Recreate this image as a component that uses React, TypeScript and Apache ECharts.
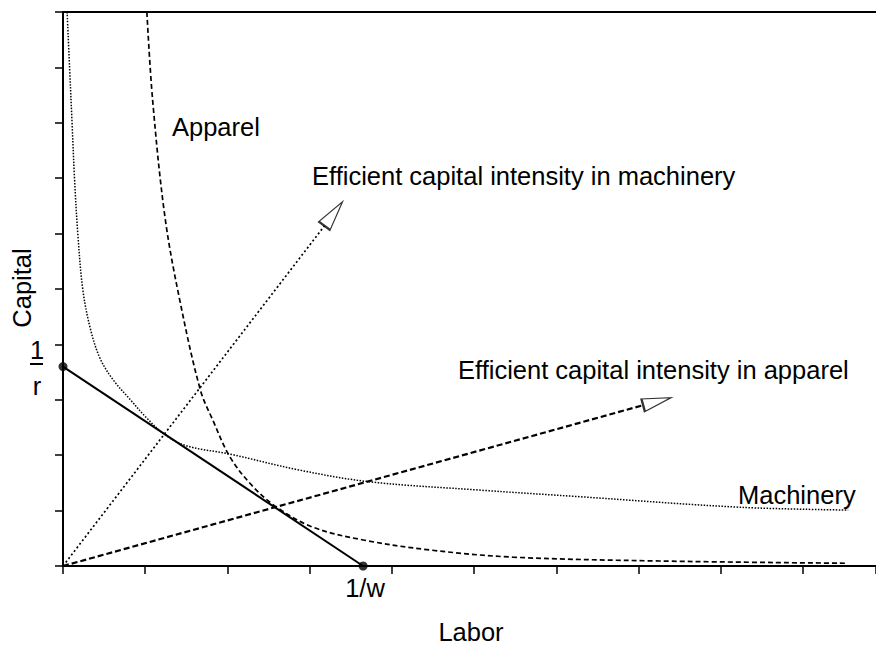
import React, { useEffect, useRef } from "react";
import * as echarts from "echarts";

// Axis extents (data units)
const xMax = 9.888;
const yMax = 10;

// Machinery isoquant (fine dotted curve)
const machineryIsoquant: number[][] = [
  [0.05, 10], [0.08, 9], [0.11, 8], [0.14, 7], [0.18, 6], [0.24, 5], [0.33, 4.3],
  [0.45, 3.75], [0.61, 3.36], [0.82, 3.0], [1.0, 2.7], [1.23, 2.38], [1.5, 2.17],
  [2.03, 2.02], [2.88, 1.73], [3.73, 1.52], [5.07, 1.37], [6.29, 1.25], [8.24, 1.06], [9.55, 1.01],
];

// Apparel isoquant (dashed curve)
const apparelIsoquant: number[][] = [
  [1.02, 10], [1.09, 8.41], [1.24, 6.3], [1.42, 4.8], [1.67, 3.18], [1.82, 2.64],
  [2.03, 1.97], [2.3, 1.45], [2.6, 1.06], [3.04, 0.7], [3.65, 0.47], [4.46, 0.29],
  [5.47, 0.16], [7.26, 0.09], [9.51, 0.05],
];

// Isocost (budget) line: 1/r on capital axis, 1/w on labor axis
const budgetLine: number[][] = [[0, 3.6], [3.65, 0]];

// Efficient capital-intensity rays
const machineryRay: number[][] = [[0, 0], [3.18, 6.14]];
const apparelRay: number[][] = [[0, 0], [7.05, 2.9]];

const FONT = '"Liberation Sans", Arial, Helvetica, sans-serif';

export default function App() {
  const ref = useRef<HTMLDivElement>(null);
  useEffect(() => {
    if (!ref.current) return;
    const chart = echarts.init(ref.current, undefined, { renderer: "svg" });
    const black = "#000";
    const txt = (text: string, x: number, y: number, align = "left", extra: any = {}) => ({
      type: "text",
      x,
      y,
      ...extra,
      style: {
        text,
        fill: "#000",
        fontSize: 25.5,
        fontFamily: FONT,
        textAlign: align,
        textVerticalAlign: "middle",
      },
    });
    chart.setOption({
      animation: false,
      backgroundColor: "#fff",
      grid: { left: 63, top: 12, right: 0, bottom: 81, containLabel: false },
      xAxis: [
        {
          type: "value",
          min: 0,
          max: xMax,
          interval: 1,
          axisLine: { show: true, onZero: false, lineStyle: { color: "#000", width: 2 } },
          axisTick: { show: true, length: 8, lineStyle: { color: "#000", width: 1.5 } },
          axisLabel: { show: false },
          splitLine: { show: false },
        },
        {
          type: "value",
          position: "top",
          min: 0,
          max: xMax,
          axisLine: { show: true, onZero: false, lineStyle: { color: "#000", width: 2 } },
          axisTick: { show: false },
          axisLabel: { show: false },
          splitLine: { show: false },
        },
      ],
      yAxis: {
        type: "value",
        min: 0,
        max: yMax,
        interval: 1,
        axisLine: { show: true, onZero: false, lineStyle: { color: "#000", width: 2 } },
        axisTick: { show: true, length: 8, lineStyle: { color: "#000", width: 1.5 } },
        axisLabel: { show: false },
        splitLine: { show: false },
      },
      series: [
        {
          type: "line",
          data: machineryIsoquant,
          smooth: 0.35,
          showSymbol: false,
          lineStyle: { color: black, width: 1.5, type: [1.5, 1.5] },
        },
        {
          type: "line",
          data: apparelIsoquant,
          smooth: 0.35,
          showSymbol: false,
          lineStyle: { color: black, width: 1.7, type: [5, 3] },
        },
        {
          type: "line",
          data: budgetLine,
          showSymbol: false,
          lineStyle: { color: black, width: 2 },
        },
        {
          type: "line",
          data: machineryRay,
          showSymbol: false,
          lineStyle: { color: black, width: 1.7, type: [2, 2.5] },
        },
        {
          type: "line",
          data: apparelRay,
          showSymbol: false,
          lineStyle: { color: black, width: 2.2, type: [6, 3] },
        },
        {
          type: "scatter",
          clip: false,
          data: budgetLine,
          symbol: "circle",
          symbolSize: 9,
          itemStyle: { color: "#000" },
          z: 5,
        },
        {
          type: "scatter",
          clip: false,
          data: [machineryRay[1]],
          symbol: "triangle",
          symbolSize: [14, 30],
          symbolRotate: -36.9,
          symbolOffset: [9, -12],
          itemStyle: { color: "#fff", borderColor: "#000", borderWidth: 1.6 },
          z: 5,
        },
        {
          type: "scatter",
          clip: false,
          data: [apparelRay[1]],
          symbol: "triangle",
          symbolSize: [13, 29],
          symbolRotate: -74.7,
          symbolOffset: [14.5, -3.9],
          itemStyle: { color: "#fff", borderColor: "#000", borderWidth: 1.6 },
          z: 5,
        },
      ],
      graphic: [
        txt("Apparel", 172, 127),
        txt("Efficient capital intensity in machinery", 312, 176),
        txt("Efficient capital intensity in apparel", 458, 370),
        txt("Machinery", 738, 495),
        txt("1/w", 365, 588, "center"),
        txt("Labor", 471, 632, "center"),
        txt("Capital", 22, 288, "center", { rotation: Math.PI / 2 }),
        txt("1", 37, 350, "center"),
        txt("r", 37, 386, "center"),
        {
          type: "line",
          shape: { x1: 30, y1: 364, x2: 43, y2: 364 },
          style: { stroke: "#000", lineWidth: 2 },
        },
      ],
    });
    return () => chart.dispose();
  }, []);
  return (
    <div
      ref={ref}
      style={{ position: "fixed", left: 0, top: 0, width: 876, height: 647, background: "#fff" }}
    />
  );
}
